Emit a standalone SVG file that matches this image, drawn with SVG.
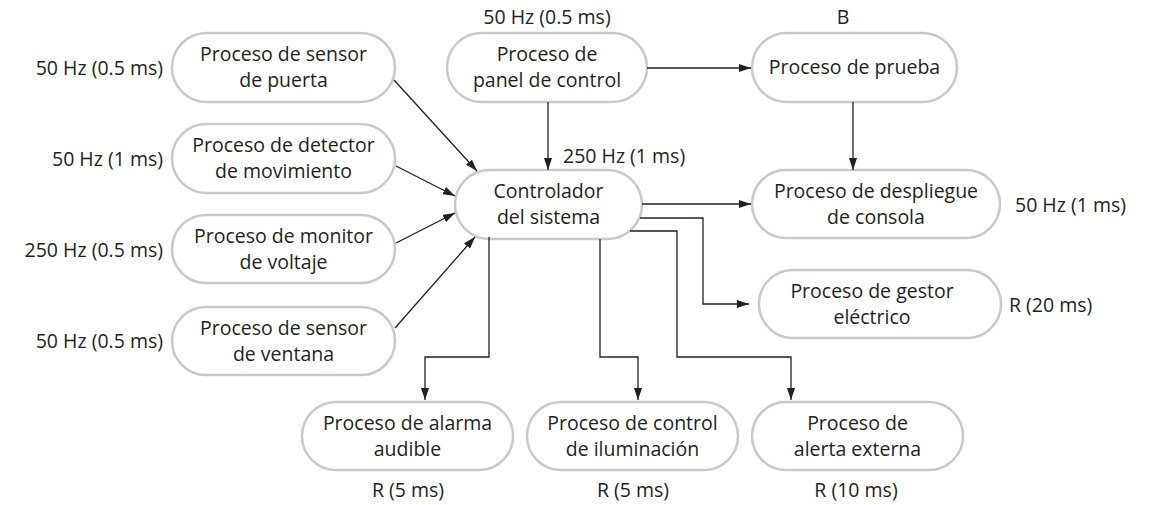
<svg xmlns="http://www.w3.org/2000/svg" width="1151" height="505" viewBox="0 0 1151 505">
<defs>
<marker id="ah" viewBox="0 0 12 8" refX="12" refY="4" markerWidth="12" markerHeight="8" markerUnits="userSpaceOnUse" orient="auto">
<path d="M0,0 L12,4 L0,8 Z" fill="#231f20"/>
</marker>
<style>
.n{fill:#fff;stroke:#c9c9c9;stroke-width:2.5}
text{font-family:"Open Sans","Noto Sans",sans-serif;font-size:19.5px;fill:#231f20}
.c{text-anchor:middle}
.e{text-anchor:end}
.l{fill:none;stroke:#231f20;stroke-width:1.3;marker-end:url(#ah)}
</style>
</defs>
<rect width="1151" height="505" fill="#fff"/>
<g id="n-puerta"><rect class="n" x="172" y="33" width="223" height="69" rx="34.5"/><text class="c" x="283.5" y="61">Proceso de sensor</text><text class="c" x="283.5" y="87">de puerta</text></g>
<g id="n-movimiento"><rect class="n" x="172" y="124" width="223" height="69" rx="34.5"/><text class="c" x="283.5" y="152">Proceso de detector</text><text class="c" x="283.5" y="178">de movimiento</text></g>
<g id="n-voltaje"><rect class="n" x="172" y="215" width="223" height="68" rx="34"/><text class="c" x="283.5" y="242.5">Proceso de monitor</text><text class="c" x="283.5" y="268.5">de voltaje</text></g>
<g id="n-ventana"><rect class="n" x="172" y="307" width="223" height="68" rx="34"/><text class="c" x="283.5" y="334.5">Proceso de sensor</text><text class="c" x="283.5" y="360.5">de ventana</text></g>
<g id="n-panel"><rect class="n" x="447" y="33" width="200" height="69" rx="34.5"/><text class="c" x="547" y="61">Proceso de</text><text class="c" x="547" y="87">panel de control</text></g>
<g id="n-controlador"><rect class="n" x="455" y="170" width="187" height="69" rx="34.5"/><text class="c" x="548.5" y="198">Controlador</text><text class="c" x="548.5" y="224">del sistema</text></g>
<g id="n-prueba"><rect class="n" x="752" y="33" width="205" height="69" rx="34.5"/><text class="c" x="854.5" y="74">Proceso de prueba</text></g>
<g id="n-despliegue"><rect class="n" x="752" y="170" width="248" height="68" rx="34"/><text class="c" x="876" y="197.5">Proceso de despliegue</text><text class="c" x="876" y="223.5">de consola</text></g>
<g id="n-gestor"><rect class="n" x="759" y="270" width="242" height="68" rx="34"/><text class="c" x="872" y="297.5">Proceso de gestor</text><text class="c" x="872" y="323.5">eléctrico</text></g>
<g id="n-alarma"><rect class="n" x="302" y="402" width="211" height="68" rx="34"/><text class="c" x="407.5" y="429.5">Proceso de alarma</text><text class="c" x="407.5" y="455.5">audible</text></g>
<g id="n-iluminacion"><rect class="n" x="527" y="402" width="211" height="68" rx="34"/><text class="c" x="632.5" y="429.5">Proceso de control</text><text class="c" x="632.5" y="455.5">de iluminación</text></g>
<g id="n-alerta"><rect class="n" x="752" y="402" width="211" height="68" rx="34"/><text class="c" x="857.5" y="429.5">Proceso de</text><text class="c" x="857.5" y="455.5">alerta externa</text></g>
<g id="labels">
<text class="e" x="163" y="75">50 Hz (0.5 ms)</text>
<text class="e" x="163" y="166">50 Hz (1 ms)</text>
<text class="e" x="163" y="257">250 Hz (0.5 ms)</text>
<text class="e" x="163" y="348">50 Hz (0.5 ms)</text>
<text class="c" x="547" y="24">50 Hz (0.5 ms)</text>
<text class="c" x="843" y="24">B</text>
<text x="563" y="163">250 Hz (1 ms)</text>
<text x="1015" y="212">50 Hz (1 ms)</text>
<text x="1009" y="312">R (20 ms)</text>
<text class="c" x="408" y="497">R (5 ms)</text>
<text class="c" x="633" y="497">R (5 ms)</text>
<text class="c" x="856" y="497">R (10 ms)</text>
</g>
<g id="connectors">
<path class="l" d="M394,80 L477,171"/>
<path class="l" d="M396,166 L455,196"/>
<path class="l" d="M396,243 L455,213"/>
<path class="l" d="M395,328 L475,237"/>
<path class="l" d="M548,102 L548,170"/>
<path class="l" d="M647,68 L751,68"/>
<path class="l" d="M853,102 L853,170"/>
<path class="l" d="M642,204 L751,204"/>
<path class="l" d="M640,218 L703,218 L703,304 L749,304"/>
<path class="l" d="M630,231 L677,231 L677,357 L791,357 L791,400"/>
<path class="l" d="M600,239 L600,357 L638,357 L638,400"/>
<path class="l" d="M489,237 L489,357 L425,357 L425,400"/>
</g>
</svg>
